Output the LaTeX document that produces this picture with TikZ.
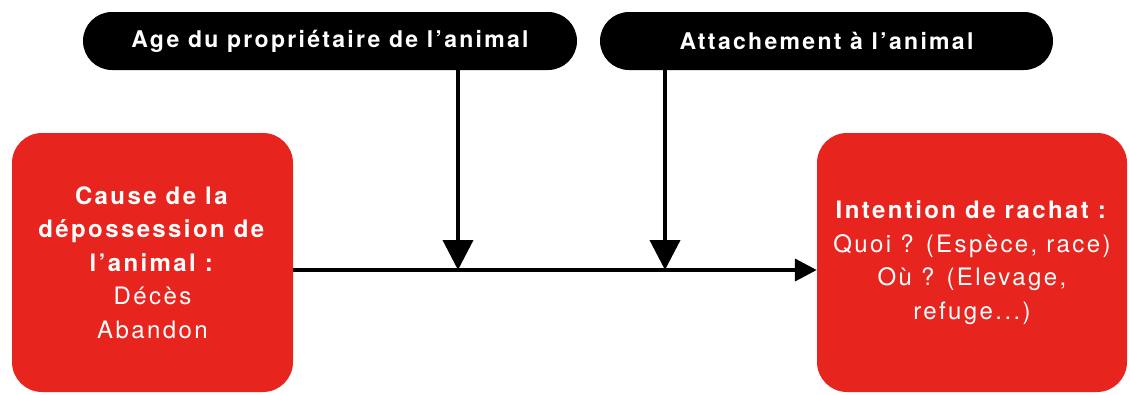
\documentclass[tikz,border=0pt]{standalone}
\usepackage{fontspec}
\setmainfont{TeX Gyre Heros}[LetterSpace=10]
\usetikzlibrary{arrows.meta}
\definecolor{boxred}{RGB}{232,36,30}
\begin{document}
\begin{tikzpicture}[x=1pt,y=-1pt,
  redbox/.style={fill=boxred,rounded corners=30pt,inner sep=0pt,
    text=white,align=center,font=\fontsize{24}{33.5}\selectfont},
  pill/.style={fill=black,rounded corners=29pt,minimum height=58pt,
    inner sep=0pt,text=white,font=\fontsize{23}{26}\selectfont\bfseries},
  link/.style={line width=4pt},
  bigtip/.style={-{Triangle[length=30pt,width=30pt]}},
  smalltip/.style={-{Triangle[length=22pt,width=22pt]}}]
\useasboundingbox (0,0) rectangle (1130,394);
% input boxes
\node[redbox,minimum width=281pt,minimum height=259pt] (cause) at (152.5,262.5)
  {\textbf{Cause de la}\\\textbf{dépossession de}\\\textbf{l'animal :}\\Décès\\Abandon};
\node[redbox,minimum width=310pt,minimum height=259pt] (intent) at (972,262.5)
  {\textbf{Intention de rachat :}\\Quoi ? (Espèce, race)\\Où ? (Elevage,\\refuge...)};
% moderators
\node[pill,minimum width=494pt] (age) at (330,41) {Age du propriétaire de l'animal};
\node[pill,minimum width=453pt] (attach) at (826.5,41) {Attachement à l'animal};
% junctions on the main link
\coordinate (j1) at (458,270);
\coordinate (j2) at (665,270);
\draw[link,smalltip] (cause.east |- j1) -- (intent.west |- j1);
\draw[link,bigtip] (age.south -| j1) -- (j1);
\draw[link,bigtip] (attach.south -| j2) -- (j2);
\end{tikzpicture}
\end{document}
